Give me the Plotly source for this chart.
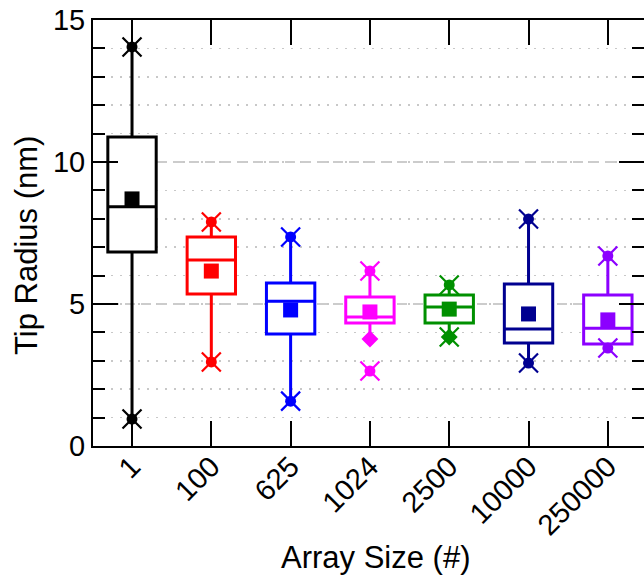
import plotly.graph_objects as go

categories = ["1", "100", "625", "1024", "2500", "10000", "250000"]
colors = ["#000000", "#FF0000", "#0000FF", "#FF00FF", "#009000", "#000090", "#8C00FF"]
q1 = [6.83, 5.35, 3.94, 4.33, 4.33, 3.63, 3.59]
median = [8.42, 6.55, 5.10, 4.54, 4.89, 4.12, 4.15]
q3 = [10.88, 7.36, 5.74, 5.25, 5.32, 5.70, 5.32]
lower_whisker = [0.95, 2.96, 1.58, 3.77, 3.84, 2.92, 3.45]
upper_whisker = [14.05, 7.89, 7.36, 6.16, 5.67, 7.99, 6.69]
means = [8.70, 6.16, 4.79, 4.72, 4.82, 4.65, 4.44]
x_min = [0.95, 2.96, 1.58, 2.64, 3.84, 2.92, 3.45]
x_max = [14.05, 7.89, 7.36, 6.16, 5.67, 7.99, 6.69]
diamond_cats = ["1024", "2500"]
diamond_vals = [3.77, 3.84]
diamond_colors = ["#FF00FF", "#009000"]

fig = go.Figure()

for i, c in enumerate(categories):
    fig.add_trace(go.Box(
        x=[c], q1=[q1[i]], median=[median[i]], q3=[q3[i]],
        lowerfence=[lower_whisker[i]], upperfence=[upper_whisker[i]],
        width=0.61, whiskerwidth=0, boxpoints=False,
        line=dict(color=colors[i], width=3), fillcolor="white",
        showlegend=False, hoverinfo="skip"))

# diamonds
fig.add_trace(go.Scatter(
    x=diamond_cats, y=diamond_vals, mode="markers",
    marker=dict(symbol="diamond", size=13, color=diamond_colors, line=dict(width=0)),
    showlegend=False, hoverinfo="skip"))

# X markers at min/max with center dot
for vals in (x_min, x_max):
    fig.add_trace(go.Scatter(
        x=categories, y=vals, mode="markers",
        marker=dict(symbol="x-thin-open", size=19, color=colors,
                    line=dict(width=2.2, color=colors)),
        showlegend=False, hoverinfo="skip"))
    fig.add_trace(go.Scatter(
        x=categories, y=vals, mode="markers",
        marker=dict(symbol="circle", size=11, color=colors, line=dict(width=0)),
        showlegend=False, hoverinfo="skip"))

# mean squares
fig.add_trace(go.Scatter(
    x=categories, y=means, mode="markers",
    marker=dict(symbol="square", size=15, color=colors, line=dict(width=0)),
    showlegend=False, hoverinfo="skip"))

font_family = "Liberation Sans, Arial, sans-serif"

fig.update_layout(
    template="none",
    width=644, height=577,
    margin=dict(l=93, r=0, t=20, b=131, autoexpand=False),
    paper_bgcolor="white", plot_bgcolor="white",
    boxmode="overlay",
    font=dict(family=font_family, size=29, color="black"),
    xaxis=dict(
        type="category", categoryorder="array", categoryarray=categories,
        range=[-0.492, 6.456], automargin=False,
        showline=True, linecolor="black", linewidth=2, mirror="allticks",
        ticks="inside", ticklen=25, tickwidth=2, tickcolor="black",
        tickangle=-45, showgrid=False, zeroline=False, ticklabelstandoff=-10,
        tickfont=dict(size=29),
    ),
    yaxis=dict(
        range=[0, 15], tickvals=[0, 5, 10, 15], automargin=False,
        showline=True, linecolor="black", linewidth=2, mirror="allticks",
        ticks="inside", ticklen=25, tickwidth=2, tickcolor="black",
        showgrid=True, gridcolor="#CCCCCC", gridwidth=2, griddash="10px,6px",
        zeroline=False,
        minor=dict(dtick=1, ticks="inside", ticklen=12, tickwidth=2, tickcolor="black",
                   showgrid=True, gridcolor="#C8C8C8", gridwidth=1.5, griddash="2px,7px"),
        tickfont=dict(size=29),
    ),
    annotations=[
        dict(text="Tip Radius (nm)", xref="paper", yref="paper",
             x=(26 - 93) / 551, y=(446 - 246) / 426, xanchor="center", yanchor="middle",
             textangle=-90, showarrow=False, font=dict(size=31)),
        dict(text="Array Size (#)", xref="paper", yref="paper",
             x=(375 - 93) / 551, y=(446 - 557) / 426, xanchor="center", yanchor="middle",
             showarrow=False, font=dict(size=31)),
    ],
)

fig.write_html("out.html",
               config={"displayModeBar": False, "staticPlot": True},
               post_script="document.body.style.margin='0';document.body.style.overflow='hidden';")
